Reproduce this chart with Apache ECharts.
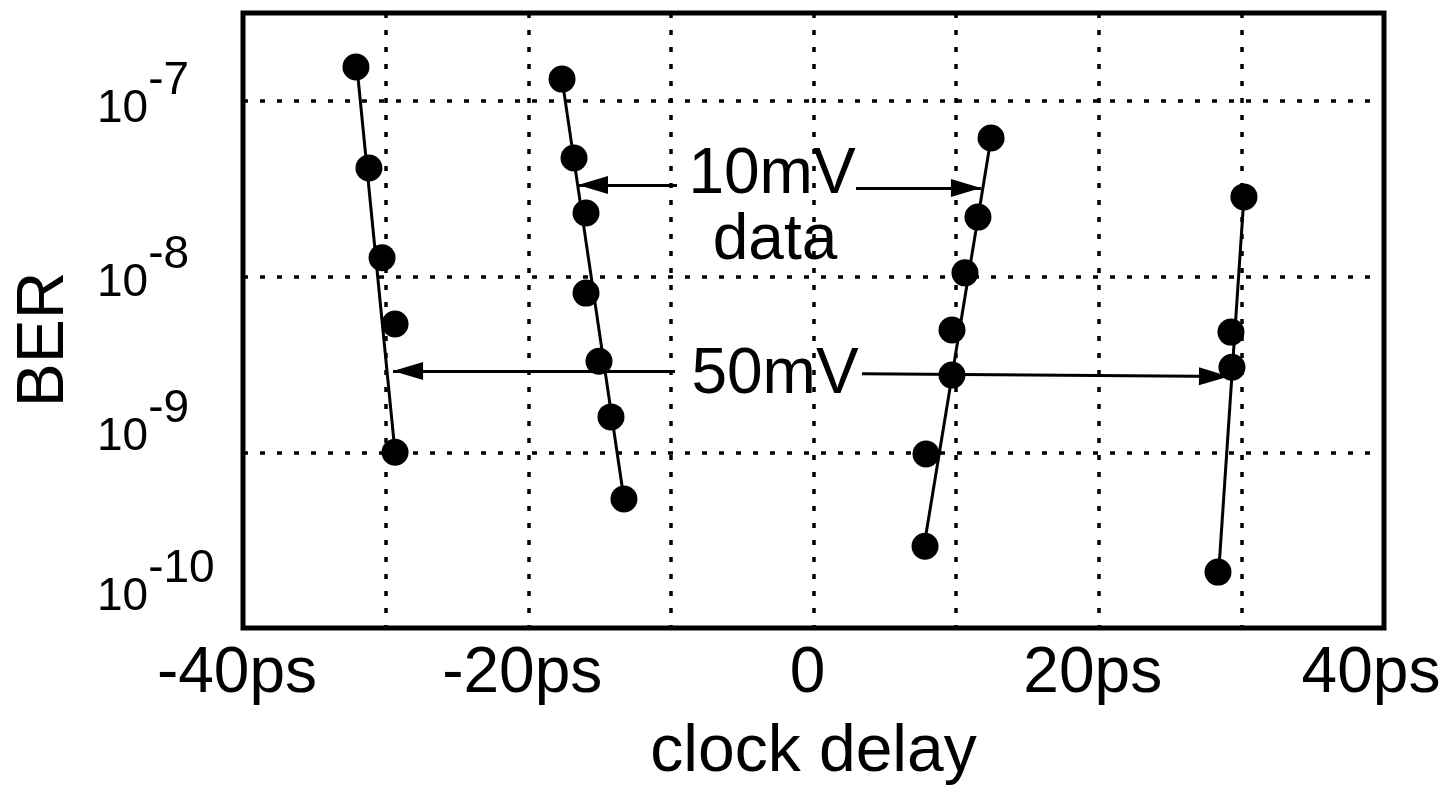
<!DOCTYPE html>
<html>
<head>
<meta charset="utf-8">
<script src="https://cdn.jsdelivr.net/npm/echarts@6/dist/echarts.min.js"></script>
<style>
html,body{margin:0;padding:0;background:#fff;}
#chart{width:1444px;height:792px;}
</style>
</head>
<body>
<div id="chart"></div>
<script>
// ---------- data ----------
// x = clock delay (ps), y = BER
const left50_x  = [-32.08, -31.17, -30.25, -29.34, -29.34];
const left50_y  = [1.56e-7, 4.15e-8, 1.28e-8, 5.37e-9, 1.0e-9];
const left10_x  = [-17.63, -16.79, -15.95, -15.95, -15.04, -14.20, -13.29];
const left10_y  = [1.33e-7, 4.73e-8, 2.30e-8, 8.05e-9, 3.30e-9, 1.59e-9, 5.42e-10];
const right10_x = [12.45, 11.53, 10.62, 9.71, 9.71, 7.89, 7.82];
const right10_y = [6.15e-8, 2.18e-8, 1.05e-8, 4.97e-9, 2.75e-9, 9.77e-10, 2.92e-10];
const right50_x = [30.18, 29.27, 29.34, 28.36];
const right50_y = [2.84e-8, 4.83e-9, 3.05e-9, 2.08e-10];

// fitted lines (start / end points)
const fitLeft50   = [[-32.01, 1.56e-7], [-29.34, 1.0e-9]];
const fitLeft10   = [[-17.63, 1.33e-7], [-13.29, 5.42e-10]];
const fitRight10  = [[12.45, 6.15e-8], [7.75, 2.92e-10]];
const fitRight50  = [[30.18, 2.84e-8], [28.43, 2.2e-10]];

// annotation texts and arrows
const annotText = ['10mV', 'data', '50mV'];
const annotX    = [-2.91, -2.70, -2.70];
const annotY    = [3.76e-8, 1.59e-8, 2.73e-9];
const arrowFrom = [[-9.57, 3.32e-8], [2.98, 3.19e-8], [-9.71, 2.9e-9], [3.40, 2.8e-9]];
const arrowTo   = [[-16.51, 3.32e-8], [11.74, 3.19e-8], [-29.48, 2.9e-9], [29.13, 2.7e-9]];

// axes
const xMin = -40, xMax = 40, xStep = 10;
const xLabelValues = [-40, -20, 0, 20, 40];
const xLabelTexts  = ['-40ps', '-20ps', '0', '20ps', '40ps'];
const yDecades = [-7, -8, -9, -10];
const yMin = 1e-10, yMax = Math.pow(10, -6.5);

// ---------- chart ----------
const FONT = "'Liberation Sans', Arial, Helvetica, sans-serif";
const zip = (xs, ys) => xs.map((x, i) => [x, ys[i]]);

// per-label styling (vertical lift of y labels, horizontal nudge of x labels)
const yLabelLift = {'-7': 6, '-8': 7, '-9': 29, '-10': 45};
const rich = {};
yDecades.forEach(e => {
  const L = yLabelLift[String(e)];
  const k = 'e' + Math.abs(e);
  rich['p' + k] = {fontFamily: FONT, fontSize: 46, lineHeight: 74 + 2 * L, color: '#000'};
  rich['b' + k] = {fontFamily: FONT, fontSize: 46, lineHeight: 46, color: '#000', verticalAlign: 'top', padding: [28, 0, 0, 0]};
  rich['s' + k] = {fontFamily: FONT, fontSize: 46, lineHeight: 46, color: '#000', verticalAlign: 'top'};
});
const xRich = {
  n: {fontFamily: FONT, fontSize: 64, color: '#000', padding: [0, 12, 0, 0]},
  r: {fontFamily: FONT, fontSize: 64, color: '#000', padding: [0, 26, 0, 0]}
};

const chart = echarts.init(document.getElementById('chart'), null, {renderer: 'canvas'});

const dotStyle = {color: '#000', width: 3.5, type: [5, 12], opacity: 1};

const pointSeries = (xs, ys) => ({
  type: 'scatter', data: zip(xs, ys), symbol: 'circle', symbolSize: 27,
  itemStyle: {color: '#000', opacity: 1}, z: 5, silent: true
});
const fitSeries = (pts) => ({
  type: 'line', data: pts, symbol: 'none', lineStyle: {color: '#000', width: 3, opacity: 1}, z: 4, silent: true
});

const arrowData = arrowFrom.map((f, i) => [
  {coord: f, symbol: 'none'},
  {coord: arrowTo[i], symbol: 'triangle', symbolSize: [18, 30], symbolOffset: [0, 15]}
]);

chart.setOption({
  animation: false,
  backgroundColor: '#fff',
  grid: {left: 243, right: 60, top: 13, bottom: 164, show: true, borderColor: '#000', borderWidth: 5,
         backgroundColor: 'transparent', containLabel: false, outerBoundsMode: 'none'},
  xAxis: {
    type: 'value', min: xMin, max: xMax, interval: xStep,
    name: 'clock delay', nameLocation: 'middle', nameGap: 92,
    nameTextStyle: {fontFamily: FONT, fontSize: 66, color: '#000'},
    axisLine: {show: false}, axisTick: {show: false},
    axisLabel: {
      margin: 14, fontFamily: FONT, fontSize: 64, color: '#000',
      showMinLabel: true, showMaxLabel: true, rich: xRich,
      formatter: v => {
        const i = xLabelValues.indexOf(Math.round(v));
        if (i < 0) return '';
        return (i === xLabelValues.length - 1 ? '{r|' : '{n|') + xLabelTexts[i] + '}';
      }
    },
    splitLine: {show: true, lineStyle: dotStyle}
  },
  yAxis: {
    type: 'log', logBase: 10, min: yMin, max: yMax,
    name: 'BER', nameLocation: 'middle', nameGap: 165,
    nameTextStyle: {fontFamily: FONT, fontSize: 66, color: '#000', padding: [0, 38, 0, 0]},
    axisLine: {show: false}, axisTick: {show: false},
    axisLabel: {
      margin: 146, align: 'left', showMaxLabel: false, showMinLabel: true,
      rich: rich,
      formatter: v => {
        const e = Math.log10(v);
        const r = Math.round(e);
        if (Math.abs(e - r) > 1e-6 || yDecades.indexOf(r) < 0) return '';
        const k = 'e' + Math.abs(r);
        return '{p' + k + '|}{b' + k + '|10}{s' + k + '|' + r + '}';
      }
    },
    splitLine: {show: true, lineStyle: dotStyle}
  },
  series: [
    fitSeries(fitLeft50), fitSeries(fitLeft10), fitSeries(fitRight10), fitSeries(fitRight50),
    pointSeries(left50_x, left50_y), pointSeries(left10_x, left10_y),
    pointSeries(right10_x, right10_y), pointSeries(right50_x, right50_y),
    {
      type: 'line', data: [], silent: true, z: 4,
      markLine: {
        silent: true, animation: false, symbol: ['none', 'triangle'],
        label: {show: false},
        lineStyle: {color: '#000', width: 3, type: 'solid', opacity: 1},
        itemStyle: {color: '#000', opacity: 1},
        emphasis: {disabled: true},
        data: arrowData
      }
    },
    {
      type: 'scatter', silent: true, z: 6, symbolSize: 1,
      itemStyle: {color: 'rgba(0,0,0,0)', opacity: 1},
      data: annotText.map((t, i) => ({name: t, value: [annotX[i], annotY[i]]})),
      label: {show: true, position: 'inside', formatter: '{b}', fontFamily: FONT, fontSize: 64,
              color: '#000', opacity: 1, textBorderWidth: 0}
    }
  ]
});
</script>
</body>
</html>
